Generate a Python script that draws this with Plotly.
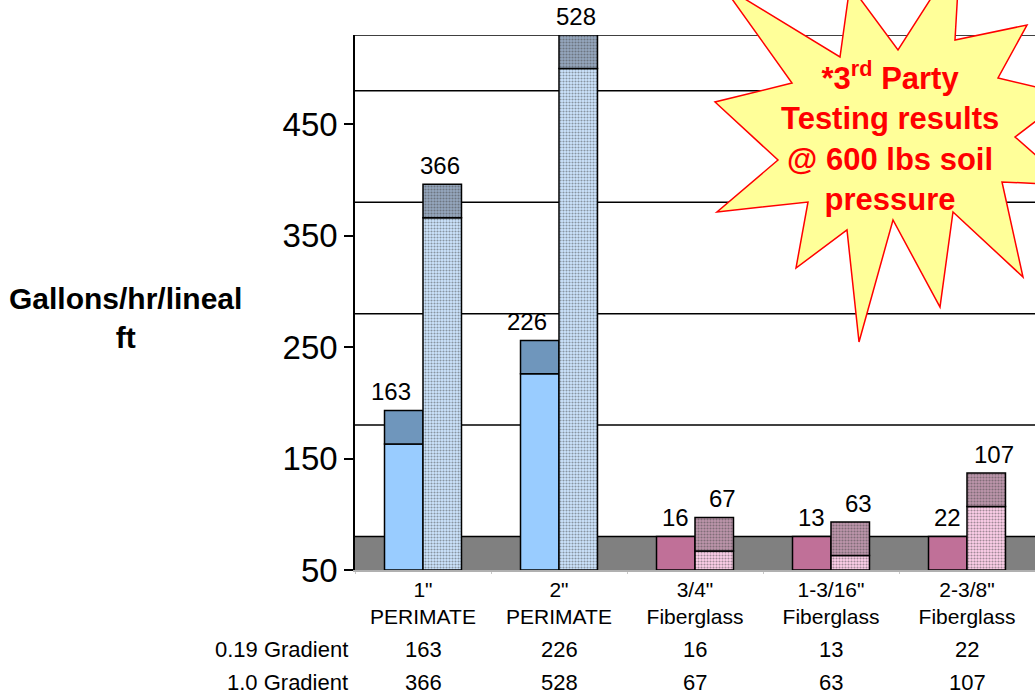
import plotly.graph_objects as go

# ---------------- data ----------------
categories = ['1" PERIMATE', '2" PERIMATE', '3/4" Fiberglass', '1-3/16" Fiberglass', '2-3/8" Fiberglass']
tick_labels = ['1"<br>PERIMATE', '2"<br>PERIMATE', '3/4"<br>Fiberglass', '1-3/16"<br>Fiberglass', '2-3/8"<br>Fiberglass']
series_names = ['0.19 Gradient', '1.0 Gradient']
gradient_019 = [163, 226, 16, 13, 22]
gradient_10 = [366, 528, 67, 63, 107]
material = ['perimate', 'perimate', 'fiberglass', 'fiberglass', 'fiberglass']
y_ticks = [50, 150, 250, 350, 450]

# ---------------- styling ----------------
Y_MIN, Y_MAX, DEPTH = 50, 500, 30
FONT = "Arial, Liberation Sans, sans-serif"

style = {
    '0.19 Gradient': {
        'perimate': dict(front='#99CCFF', top='#6F96BC', pfg=None, tfg=None, shift=-32),
        'fiberglass': dict(front='#C07098', top='#C07098', pfg=None, tfg=None, shift=-20),
    },
    '1.0 Gradient': {
        'perimate': dict(front='#CDE6FF', top='#96A8BF', pfg='#FFFFFF', tfg='#B8C5D6', shift=17),
        'fiberglass': dict(front='#FFD0EA', top='#BE96AC', pfg='#FFFFFF', tfg='#D8BECC', shift=27),
    },
}


def clip(v):
    return max(min(v, Y_MAX), Y_MIN)


fig = go.Figure()

series_values = {'0.19 Gradient': gradient_019, '1.0 Gradient': gradient_10}
for k, name in enumerate(series_names):
    vals = series_values[name]
    st = [style[name][m] for m in material]
    front_h = [clip(v) - Y_MIN for v in vals]
    top_base = [clip(v) for v in vals]
    patterned = st[0]['pfg'] is not None

    front_marker = dict(color=[s['front'] for s in st], line=dict(color='black', width=1.5))
    top_marker = dict(color=[s['top'] for s in st], line=dict(color='black', width=1.5))
    if patterned:
        front_marker['pattern'] = dict(shape='.', size=3, solidity=0.4,
                                       fgcolor=[s['pfg'] for s in st], fillmode='overlay')
        top_marker['pattern'] = dict(shape='.', size=3, solidity=0.4,
                                     fgcolor=[s['tfg'] for s in st], fillmode='overlay')

    fig.add_trace(go.Bar(x=categories, y=front_h, base=[Y_MIN] * len(vals), name=name,
                         offsetgroup=str(k), marker=front_marker, showlegend=False, hoverinfo='skip'))
    fig.add_trace(go.Bar(x=categories, y=[DEPTH] * len(vals), base=top_base, name=name + ' top',
                         offsetgroup=str(k), marker=top_marker, showlegend=False, hoverinfo='skip'))

# value labels above each bar
annotations = []
for name in series_names:
    for c, v, m in zip(categories, series_values[name], material):
        annotations.append(dict(x=c, y=clip(v) + DEPTH, xref='x', yref='y', text=str(v),
                                showarrow=False, yanchor='middle', yshift=19,
                                xshift=style[name][m]['shift'],
                                font=dict(family=FONT, size=24, color='black')))

# data table under the axis
row_y = {'0.19 Gradient': -0.1495, '1.0 Gradient': -0.211}
for name in series_names:
    annotations.append(dict(x=-0.008, y=row_y[name], xref='paper', yref='paper', text=name,
                            showarrow=False, xanchor='right', yanchor='middle',
                            font=dict(family=FONT, size=22, color='black')))
    for c, v in zip(categories, series_values[name]):
        annotations.append(dict(x=c, y=row_y[name], xref='x', yref='paper', text=str(v),
                                showarrow=False, xanchor='center', yanchor='middle',
                                font=dict(family=FONT, size=22, color='black')))

# axis title
annotations.append(dict(x=(126 - 355) / 680, y=(570 - 318) / 535, xref='paper', yref='paper',
                        text='<b>Gallons/hr/lineal<br>ft</b>', showarrow=False,
                        xanchor='center', yanchor='middle', align='center',
                        font=dict(family=FONT, size=30, color='black')))

# star callout
def px(x, y):
    return (x - 355) / 680, (570 - y) / 535

star_px = [(722, -15), (840, 57), (850, -15), (898, 50), (960, -47), (955, 40), (1027, 25),
           (998, 78), (1070, 95), (1015, 137), (1070, 185), (1002, 182), (1023, 277),
           (953, 212), (940, 307), (893, 220), (859, 342), (847, 230), (796, 268),
           (808, 202), (717, 212), (778, 160), (715, 102), (792, 83)]
pts = [px(x, y) for x, y in star_px]
star_path = 'M ' + ' L '.join(f'{a:.5f},{b:.5f}' for a, b in pts) + ' Z'

sx, sy = px(890, 136)
annotations.append(dict(x=sx, y=sy, xref='paper', yref='paper',
                        text='<b>*3<sup>rd</sup> Party<br>Testing results<br>@ 600 lbs soil<br>pressure</b>',
                        showarrow=False, xanchor='center', yanchor='middle', align='center',
                        font=dict(family=FONT, size=31, color='#FF0000')))

shapes = []
# floor
shapes.append(dict(type='rect', xref='paper', yref='y', x0=0, x1=1, y0=Y_MIN, y1=Y_MIN + DEPTH,
                   fillcolor='#808080', line=dict(width=0), layer='below'))
# back-wall gridlines (offset by the 3-D depth)
for t in y_ticks + [Y_MAX]:
    shapes.append(dict(type='line', xref='paper', yref='y', x0=0, x1=1, y0=t + DEPTH, y1=t + DEPTH,
                       line=dict(color='black', width=1.5), layer='below'))
shapes.append(dict(type='path', xref='paper', yref='paper', path=star_path,
                   fillcolor='#FFFF99', line=dict(color='#FF0000', width=1.5), layer='above'))

fig.update_layout(
    width=1035, height=698,
    margin=dict(l=355, r=0, t=35, b=128),
    paper_bgcolor='white', plot_bgcolor='white',
    barmode='group', bargap=0.434, bargroupgap=0,
    showlegend=False,
    font=dict(family=FONT, color='black'),
    annotations=annotations,
    shapes=shapes,
    xaxis=dict(type='category', categoryorder='array', categoryarray=categories,
               tickvals=categories, ticktext=tick_labels, range=[-0.5, 4.5],
               showline=True, linecolor='#B0B0B0', linewidth=1.5,
               ticks='outside', tickson='boundaries', ticklen=2, tickcolor='#C8C8C8',
               showgrid=False, zeroline=False,
               tickfont=dict(family=FONT, size=21, color='black')),
    yaxis=dict(range=[Y_MIN, Y_MAX + DEPTH], tickvals=y_ticks, ticktext=[str(t) for t in y_ticks],
               ticks='outside', ticklen=9, tickwidth=1.5, tickcolor='black',
               showline=True, linecolor='black', linewidth=1.5,
               showgrid=False, zeroline=False,
               tickfont=dict(family=FONT, size=33, color='black')),
)

fig.write_html("out.html", post_script="document.body.style.margin='0';",
               config={'displayModeBar': False})
